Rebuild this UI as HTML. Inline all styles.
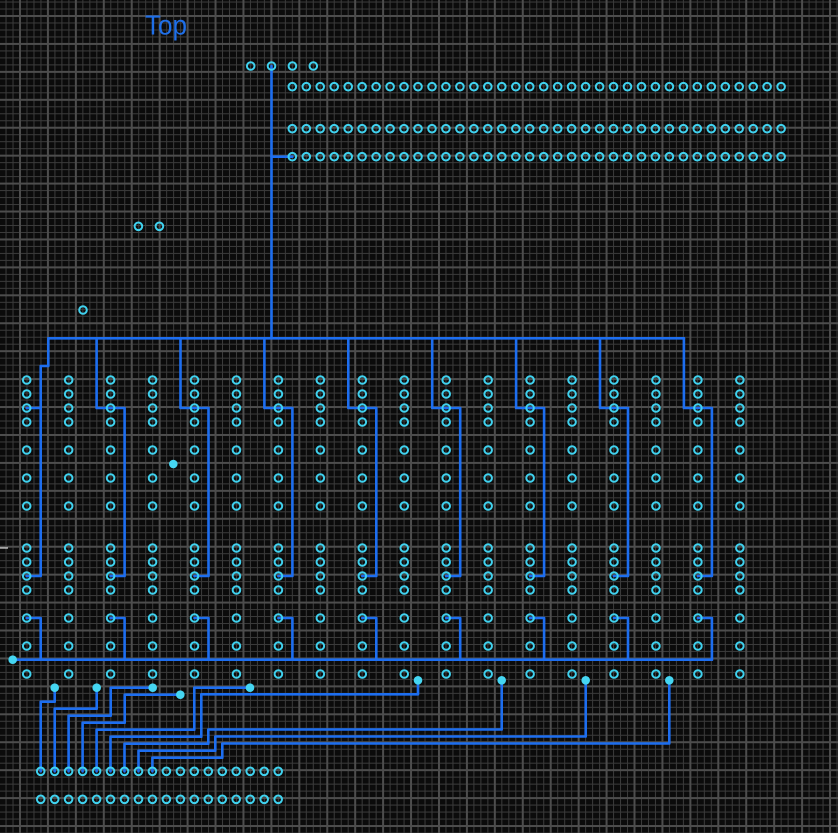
<!DOCTYPE html>
<html>
<head>
<meta charset="utf-8">
<style>
  html,body{margin:0;padding:0;background:#0b0b0b;}
  svg{display:block;}
</style>
</head>
<body>
<svg width="838" height="833" viewBox="0 0 838 833" xmlns="http://www.w3.org/2000/svg">
  <defs>
    <pattern id="grid" x="19" y="15" width="27.932" height="27.932" patternUnits="userSpaceOnUse">
      <rect x="7.483" y="0" width="1" height="27.932" fill="#3b3b3b"/>
      <rect x="14.466" y="0" width="1" height="27.932" fill="#3b3b3b"/>
      <rect x="21.449" y="0" width="1" height="27.932" fill="#3b3b3b"/>
      <rect x="0" y="7.483" width="27.932" height="1" fill="#3b3b3b"/>
      <rect x="0" y="14.466" width="27.932" height="1" fill="#3b3b3b"/>
      <rect x="0" y="21.449" width="27.932" height="1" fill="#3b3b3b"/>
      <rect x="0" y="0" width="2" height="27.932" fill="#4d4d4d"/>
      <rect x="0" y="0" width="27.932" height="2" fill="#4d4d4d"/>
    </pattern>
    <g id="row36" fill="none" stroke="#3fd2ef" stroke-width="2">
      <circle cx="292.3" cy="0" r="3.8"/><circle cx="306.3" cy="0" r="3.8"/><circle cx="320.2" cy="0" r="3.8"/><circle cx="334.2" cy="0" r="3.8"/>
      <circle cx="348.2" cy="0" r="3.8"/><circle cx="362.1" cy="0" r="3.8"/><circle cx="376.1" cy="0" r="3.8"/><circle cx="390.1" cy="0" r="3.8"/>
      <circle cx="404" cy="0" r="3.8"/><circle cx="418" cy="0" r="3.8"/><circle cx="432" cy="0" r="3.8"/><circle cx="445.9" cy="0" r="3.8"/>
      <circle cx="459.9" cy="0" r="3.8"/><circle cx="473.9" cy="0" r="3.8"/><circle cx="487.8" cy="0" r="3.8"/><circle cx="501.8" cy="0" r="3.8"/>
      <circle cx="515.8" cy="0" r="3.8"/><circle cx="529.7" cy="0" r="3.8"/><circle cx="543.7" cy="0" r="3.8"/><circle cx="557.7" cy="0" r="3.8"/>
      <circle cx="571.6" cy="0" r="3.8"/><circle cx="585.6" cy="0" r="3.8"/><circle cx="599.6" cy="0" r="3.8"/><circle cx="613.5" cy="0" r="3.8"/>
      <circle cx="627.5" cy="0" r="3.8"/><circle cx="641.5" cy="0" r="3.8"/><circle cx="655.4" cy="0" r="3.8"/><circle cx="669.4" cy="0" r="3.8"/>
      <circle cx="683.4" cy="0" r="3.8"/><circle cx="697.3" cy="0" r="3.8"/><circle cx="711.3" cy="0" r="3.8"/><circle cx="725.3" cy="0" r="3.8"/>
      <circle cx="739.2" cy="0" r="3.8"/><circle cx="753.2" cy="0" r="3.8"/><circle cx="767.1" cy="0" r="3.8"/><circle cx="781.1" cy="0" r="3.8"/>
    </g>
    <g id="col14" fill="none" stroke="#3fd2ef" stroke-width="2">
      <circle cx="0" cy="380" r="3.8"/><circle cx="0" cy="394" r="3.8"/><circle cx="0" cy="408" r="3.8"/><circle cx="0" cy="422" r="3.8"/>
      <circle cx="0" cy="450" r="3.8"/><circle cx="0" cy="478" r="3.8"/><circle cx="0" cy="506" r="3.8"/>
      <circle cx="0" cy="548" r="3.8"/><circle cx="0" cy="562" r="3.8"/><circle cx="0" cy="576" r="3.8"/><circle cx="0" cy="590" r="3.8"/>
      <circle cx="0" cy="618" r="3.8"/><circle cx="0" cy="646" r="3.8"/><circle cx="0" cy="674" r="3.8"/>
    </g>
    <g id="row18" fill="none" stroke="#3fd2ef" stroke-width="2">
      <circle cx="40.7" cy="0" r="3.8"/><circle cx="54.7" cy="0" r="3.8"/><circle cx="68.6" cy="0" r="3.8"/><circle cx="82.6" cy="0" r="3.8"/>
      <circle cx="96.6" cy="0" r="3.8"/><circle cx="110.5" cy="0" r="3.8"/><circle cx="124.5" cy="0" r="3.8"/><circle cx="138.5" cy="0" r="3.8"/>
      <circle cx="152.4" cy="0" r="3.8"/><circle cx="166.4" cy="0" r="3.8"/><circle cx="180.4" cy="0" r="3.8"/><circle cx="194.3" cy="0" r="3.8"/>
      <circle cx="208.3" cy="0" r="3.8"/><circle cx="222.3" cy="0" r="3.8"/><circle cx="236.2" cy="0" r="3.8"/><circle cx="250.2" cy="0" r="3.8"/>
      <circle cx="264.2" cy="0" r="3.8"/><circle cx="278.2" cy="0" r="3.8"/>
    </g>
  </defs>

  <rect x="0" y="0" width="838" height="833" fill="#0b0b0b"/>
  <rect x="0" y="0" width="838" height="833" fill="url(#grid)"/>

  <!-- white tick -->
  <line x1="0" y1="548" x2="8" y2="548" stroke="#ffffff" stroke-width="1"/>

  <!-- title -->
  <text x="145" y="34.5" font-family="Liberation Sans, sans-serif" font-size="28" fill="#1f6fe8" textLength="42" lengthAdjust="spacingAndGlyphs">Top</text>

  <!-- traces -->
  <g fill="none" stroke="#1d6ef0" stroke-width="2.6" stroke-linejoin="round" stroke-linecap="round">
    <path d="M271.5 66 V338.3"/>
    <path d="M271.5 156.7 H292.3"/>
    <path d="M48.3 338.3 H683.9"/>
    <path d="M48.3 338.3 V366 H40.7 V576 H26.7"/>
    <path d="M26.7 408 H40.7"/>
    <path d="M96.6 338.3 V408 H124.6 V576 H110.6"/>
    <path d="M180.5 338.3 V408 H208.5 V576 H194.5"/>
    <path d="M264.4 338.3 V408 H292.4 V576 H278.4"/>
    <path d="M348.3 338.3 V408 H376.3 V576 H362.3"/>
    <path d="M432.2 338.3 V408 H460.2 V576 H446.2"/>
    <path d="M516.1 338.3 V408 H544.1 V576 H530.1"/>
    <path d="M600 338.3 V408 H628 V576 H614"/>
    <path d="M683.9 338.3 V408 H711.9 V576 H697.9"/>

    <path d="M12.7 659.7 H711.9"/>
    <path d="M26.7 618 H40.7 V659.7"/>
    <path d="M110.6 618 H124.6 V659.7"/>
    <path d="M194.5 618 H208.5 V659.7"/>
    <path d="M278.4 618 H292.4 V659.7"/>
    <path d="M362.3 618 H376.3 V659.7"/>
    <path d="M446.2 618 H460.2 V659.7"/>
    <path d="M530.1 618 H544.1 V659.7"/>
    <path d="M614 618 H628 V659.7"/>
    <path d="M697.9 618 H711.9 V659.7"/>

    <path d="M40.7 771.3 V701.7 H54.7 V687.7"/>
    <path d="M54.7 771.3 V708.7 H96.7 V687.7"/>
    <path d="M68.6 771.3 V715.7 H110.7 V687.7 H152.7"/>
    <path d="M82.6 771.3 V722.7 H124.7 V694.7 H180.3"/>
    <path d="M96.6 771.3 V729.7 H194.3 V687.7 H250"/>
    <path d="M110.5 771.3 V736.7 H201.3 V694.3 H418 V680.3"/>
    <path d="M124.5 771.3 V743.7 H208.3 V729.5 H501.7 V680.3"/>
    <path d="M138.5 771.3 V750.7 H215.3 V736.5 H585.7 V680.3"/>
    <path d="M152.4 771.3 V757.7 H222.3 V743.5 H669.3 V680.3"/>
  </g>

  <!-- pads -->
  <g fill="none" stroke="#3fd2ef" stroke-width="2">
    <circle cx="250.7" cy="66" r="3.8"/>
    <circle cx="271.5" cy="66" r="3.8"/>
    <circle cx="292.4" cy="66" r="3.8"/>
    <circle cx="313.3" cy="66" r="3.8"/>
    <circle cx="138.4" cy="226.3" r="3.8"/>
    <circle cx="159.4" cy="226.3" r="3.8"/>
    <circle cx="83" cy="310" r="3.8"/>
  </g>
  <use href="#row36" transform="translate(0,86.7)"/>
  <use href="#row36" transform="translate(0,128.7)"/>
  <use href="#row36" transform="translate(0,156.7)"/>

  <use href="#col14" transform="translate(26.7,0)"/>
  <use href="#col14" transform="translate(68.65,0)"/>
  <use href="#col14" transform="translate(110.6,0)"/>
  <use href="#col14" transform="translate(152.55,0)"/>
  <use href="#col14" transform="translate(194.5,0)"/>
  <use href="#col14" transform="translate(236.45,0)"/>
  <use href="#col14" transform="translate(278.4,0)"/>
  <use href="#col14" transform="translate(320.35,0)"/>
  <use href="#col14" transform="translate(362.3,0)"/>
  <use href="#col14" transform="translate(404.25,0)"/>
  <use href="#col14" transform="translate(446.2,0)"/>
  <use href="#col14" transform="translate(488.15,0)"/>
  <use href="#col14" transform="translate(530.1,0)"/>
  <use href="#col14" transform="translate(572.05,0)"/>
  <use href="#col14" transform="translate(614,0)"/>
  <use href="#col14" transform="translate(655.95,0)"/>
  <use href="#col14" transform="translate(697.9,0)"/>
  <use href="#col14" transform="translate(739.85,0)"/>

  <use href="#row18" transform="translate(0,771.3)"/>
  <use href="#row18" transform="translate(0,799.3)"/>

  <!-- vias -->
  <g fill="#45d6f2">
    <circle cx="173.3" cy="464" r="4.3"/>
    <circle cx="12.7" cy="659.7" r="4.3"/>
    <circle cx="54.7" cy="687.7" r="4.3"/>
    <circle cx="96.7" cy="687.7" r="4.3"/>
    <circle cx="152.7" cy="687.7" r="4.3"/>
    <circle cx="180.3" cy="694.7" r="4.3"/>
    <circle cx="250" cy="687.7" r="4.3"/>
    <circle cx="418" cy="680.3" r="4.3"/>
    <circle cx="501.7" cy="680.3" r="4.3"/>
    <circle cx="585.7" cy="680.3" r="4.3"/>
    <circle cx="669.3" cy="680.3" r="4.3"/>
  </g>
</svg>
</body>
</html>
